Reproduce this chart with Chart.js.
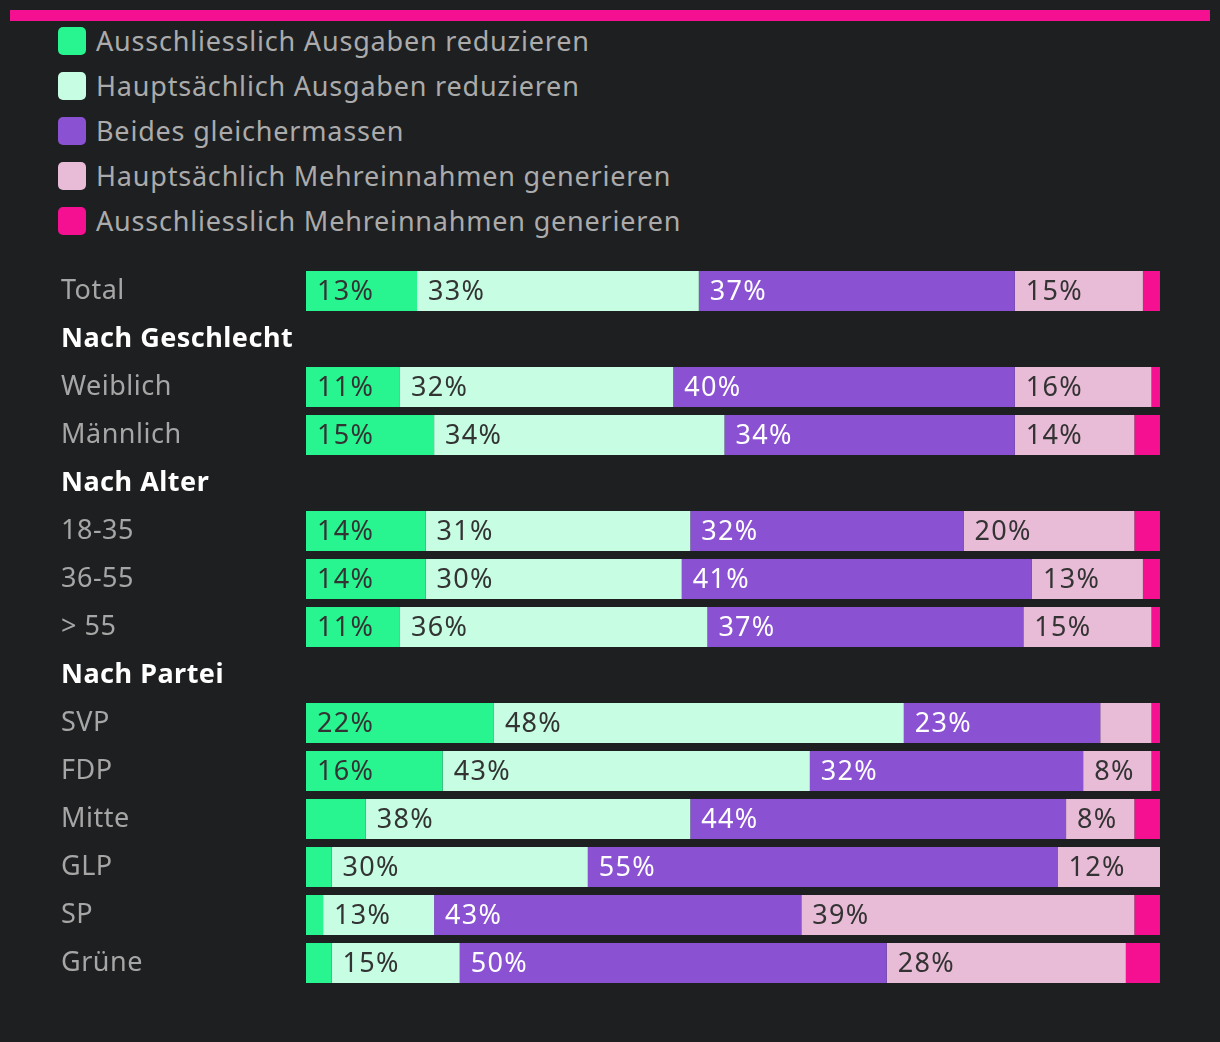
<!DOCTYPE html>
<html>
<head>
<meta charset="utf-8">
<script src="https://cdn.jsdelivr.net/npm/chart.js@4"></script>
<style>
  body { margin: 0; background: #1e1f21; font-family: "Noto Sans", sans-serif; }
  #wrap { position: relative; width: 1220px; height: 1042px; }
  #topline { position: absolute; left: 10px; top: 10px; width: 1200px; height: 11px; background: #f50f91; }
  #legend { position: absolute; left: 58px; top: 18px; margin: 0; padding: 0; list-style: none; }
  #legend li { height: 45px; display: flex; align-items: center; color: #ababab; font-size: 27px; letter-spacing: 0.8px; }
  #legend span.box { width: 28px; height: 28px; border-radius: 5px; margin-right: 10px; display: inline-block; }
  canvas { position: absolute; left: 0; top: 0; }
</style>
</head>
<body>
<div id="wrap">
  <div id="topline"></div>
  <ul id="legend"></ul>
  <canvas id="myChart" width="1220" height="1042"></canvas>
</div>
<script>
const categories = ['Total', 'Nach Geschlecht', 'Weiblich', 'Männlich', 'Nach Alter', '18-35', '36-55', '> 55',
  'Nach Partei', 'SVP', 'FDP', 'Mitte', 'GLP', 'SP', 'Grüne'];
const headers = ['Nach Geschlecht', 'Nach Alter', 'Nach Partei'];
const seriesNames = ['Ausschliesslich Ausgaben reduzieren', 'Hauptsächlich Ausgaben reduzieren', 'Beides gleichermassen',
  'Hauptsächlich Mehreinnahmen generieren', 'Ausschliesslich Mehreinnahmen generieren'];
const colors = ['#28f590', '#c6fde3', '#8a52d2', '#e8bbd6', '#f50f91'];
const labelColors = ['#333333', '#333333', '#ffffff', '#333333', '#ffffff'];

const ausschlAusgaben  = [13, null, 11, 15, null, 14, 14, 11, null, 22, 16, 7, 3, 2, 3];
const hauptAusgaben    = [33, null, 32, 34, null, 31, 30, 36, null, 48, 43, 38, 30, 13, 15];
const beides           = [37, null, 40, 34, null, 32, 41, 37, null, 23, 32, 44, 55, 43, 50];
const hauptEinnahmen   = [15, null, 16, 14, null, 20, 13, 15, null, 6, 8, 8, 12, 39, 28];
const ausschlEinnahmen = [2, null, 1, 3, null, 3, 2, 1, null, 1, 1, 3, 0, 3, 4];

const seriesValues = [ausschlAusgaben, hauptAusgaben, beides, hauptEinnahmen, ausschlEinnahmen];

// html legend
const legendEl = document.getElementById('legend');
seriesNames.forEach((name, i) => {
  const li = document.createElement('li');
  li.innerHTML = '<span class="box" style="background:' + colors[i] + '"></span>' + name;
  legendEl.appendChild(li);
});

// a bit wider text, closer to the original rounded font
const spacing = {
  id: 'spacing',
  beforeDraw(chart) { chart.ctx.letterSpacing = '0.5px'; }
};

// percentage labels inside the bars
const barLabels = {
  id: 'barLabels',
  afterDatasetsDraw(chart) {
    const c = chart.ctx;
    c.save();
    c.font = '27px "Noto Sans"';
    c.letterSpacing = '1.3px';
    c.textBaseline = 'middle';
    c.textAlign = 'left';
    chart.data.datasets.forEach((ds, i) => {
      const meta = chart.getDatasetMeta(i);
      meta.data.forEach((bar, j) => {
        const v = ds.data[j];
        if (v == null || v < 8) return;
        c.fillStyle = labelColors[i];
        c.fillText(v + '%', Math.min(bar.base, bar.x) + 11, bar.y + 1);
      });
    });
    c.restore();
  }
};

const ctx = document.getElementById('myChart');
new Chart(ctx, {
  type: 'bar',
  data: {
    labels: categories,
    datasets: seriesValues.map((vals, i) => ({
      label: seriesNames[i],
      data: vals,
      backgroundColor: colors[i],
      borderWidth: 0,
      barPercentage: 1,
      categoryPercentage: 40 / 48
    }))
  },
  options: {
    indexAxis: 'y',
    responsive: false,
    animation: false,
    layout: { padding: { left: 61, right: 60, top: 267, bottom: 55 } },
    plugins: { legend: { display: false }, tooltip: { enabled: false } },
    scales: {
      x: { stacked: true, min: 0, max: 100, display: false },
      y: {
        stacked: true,
        grid: { display: false, drawTicks: false },
        border: { display: false },
        afterFit: s => { s.width = 245; },
        ticks: {
          crossAlign: 'far',
          padding: 0,
          color: c => headers.includes(categories[c.index]) ? '#ffffff' : '#a6a6a6',
          font: c => ({ family: '"Noto Sans"', size: 27, weight: headers.includes(categories[c.index]) ? 'bold' : 'normal' })
        }
      }
    }
  },
  plugins: [spacing, barLabels]
});
</script>
</body>
</html>
